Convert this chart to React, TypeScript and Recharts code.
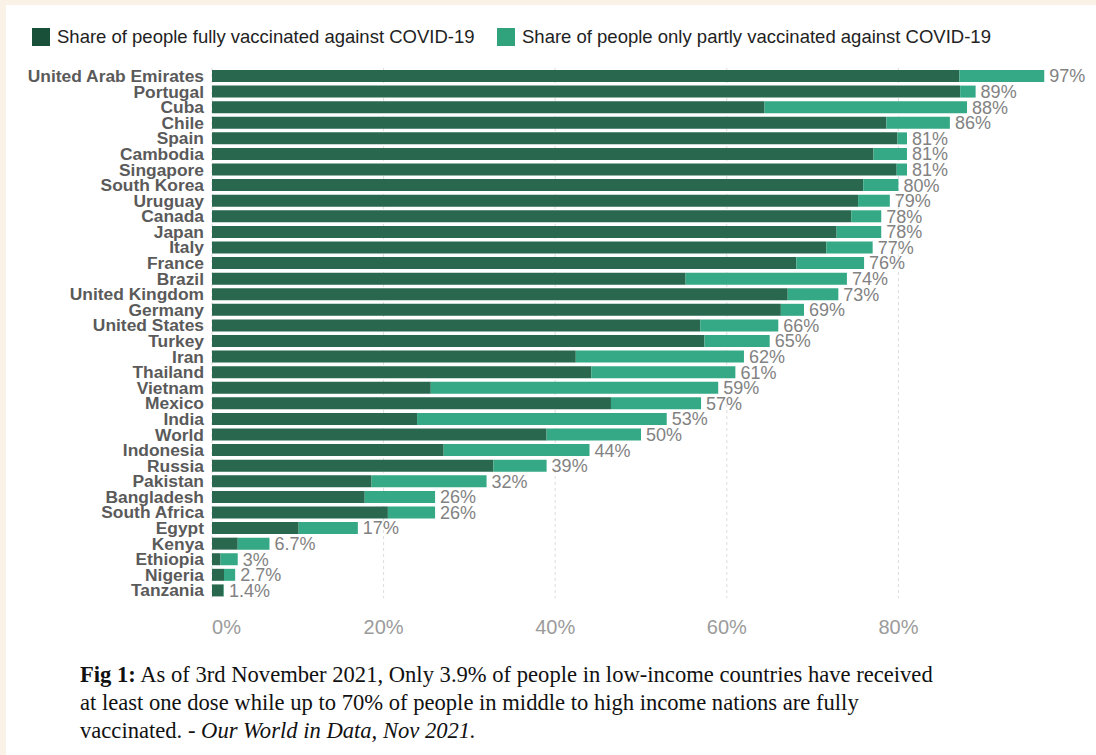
import { Bar, BarChart, CartesianGrid, LabelList, XAxis, YAxis } from "recharts";

const countries = [
  "United Arab Emirates", "Portugal", "Cuba", "Chile", "Spain", "Cambodia", "Singapore",
  "South Korea", "Uruguay", "Canada", "Japan", "Italy", "France", "Brazil", "United Kingdom",
  "Germany", "United States", "Turkey", "Iran", "Thailand", "Vietnam", "Mexico", "India",
  "World", "Indonesia", "Russia", "Pakistan", "Bangladesh", "South Africa", "Egypt", "Kenya",
  "Ethiopia", "Nigeria", "Tanzania",
];

// share fully vaccinated (%)
const fullyVaccinated = [
  87.1, 87.2, 64.4, 78.6, 79.9, 77.1, 79.8, 75.9, 75.3, 74.5, 72.8, 71.6, 68.1, 55.2, 67.1,
  66.3, 56.9, 57.4, 42.4, 44.2, 25.5, 46.5, 23.9, 39.0, 27.0, 32.8, 18.6, 17.8, 20.5, 10.1,
  3.0, 1.0, 1.4, 1.35,
];

// total with at least one dose (%), shown as the bar label
const totalVaccinated = [
  97, 89, 88, 86, 81, 81, 81, 80, 79, 78, 78, 77, 76, 74, 73, 69, 66, 65, 62, 61, 59, 57, 53,
  50, 44, 39, 32, 26, 26, 17, 6.7, 3, 2.7, 1.4,
];

const xTicks = [0, 20, 40, 60, 80];

const data = countries.map((country, i) => ({
  country,
  fully: fullyVaccinated[i],
  partly: +(totalVaccinated[i] - fullyVaccinated[i]).toFixed(2),
  total: totalVaccinated[i],
}));

const SANS = "'Liberation Sans', Arial, sans-serif";
const SERIF = "'Liberation Serif', 'Times New Roman', serif";

function PercentTick({ x, y, payload }: any) {
  const first = payload.value === 0;
  return (
    <text
      x={x}
      y={y + 29}
      textAnchor={first ? "start" : "middle"}
      dominantBaseline="central"
      fill="#9b9b9b"
      fontSize={20}
      fontFamily={SANS}
    >
      {payload.value}%
    </text>
  );
}

function LegendItem({ color, label, left }: { color: string; label: string; left: number }) {
  return (
    <div style={{ position: "absolute", left, top: 28, display: "flex", alignItems: "center" }}>
      <span style={{ width: 18, height: 18, background: color, display: "inline-block" }} />
      <span style={{ marginLeft: 7, fontSize: 18.5, color: "#222", fontFamily: SANS, lineHeight: "18px" }}>
        {label}
      </span>
    </div>
  );
}

export default function App() {
  return (
    <div style={{ position: "absolute", left: 0, top: 0, width: 1096, height: 755, background: "#fbf2e7" }}>
      <div style={{ position: "absolute", left: 6, top: 5, right: 0, bottom: 0, background: "#fff" }} />
      <LegendItem color="#18503a" label="Share of people fully vaccinated against COVID-19" left={32} />
      <LegendItem color="#30a37c" label="Share of people only partly vaccinated against COVID-19" left={497} />
      <div style={{ position: "absolute", left: 0, top: 0 }}>
        <BarChart
          width={1096}
          height={640}
          data={data}
          layout="vertical"
          barSize={12}
          margin={{ top: 68, right: 26, bottom: 0, left: 0 }}
        >
          <CartesianGrid horizontal={false} verticalValues={xTicks} strokeDasharray="3 3" stroke="#dcdcdc" />
          <XAxis
            type="number"
            domain={[0, 100]}
            ticks={xTicks}
            height={42}
            axisLine={false}
            tickLine={false}
            tickSize={0}
            tickMargin={0}
            tick={<PercentTick />}
          />
          <YAxis
            type="category"
            dataKey="country"
            width={212}
            axisLine={false}
            tickLine={false}
            tickSize={0}
            tickMargin={8}
            interval={0}
            tick={{ fill: "#5a5a5a", fontSize: 17.4, fontWeight: 700, fontFamily: SANS }}
          />
          <Bar dataKey="fully" stackId="a" fill="#29684f" isAnimationActive={false} />
          <Bar dataKey="partly" stackId="a" fill="#35a985" isAnimationActive={false}>
            <LabelList
              dataKey="total"
              position="right"
              offset={5}
              fill="#828282"
              fontSize={18}
              fontFamily={SANS}
              formatter={(v: any) => `${v}%`}
            />
          </Bar>
        </BarChart>
      </div>
      <div
        style={{
          position: "absolute",
          left: 80,
          top: 661,
          fontFamily: SERIF,
          fontSize: 22.6,
          lineHeight: "28px",
          color: "#111",
          whiteSpace: "nowrap",
        }}
      >
        <div>
          <b>Fig 1:</b> As of 3rd November 2021, Only 3.9% of people in low-income countries have received
        </div>
        <div>at least one dose while up to 70% of people in middle to high income nations are fully</div>
        <div>
          vaccinated. - <i>Our World in Data, Nov 2021.</i>
        </div>
      </div>
    </div>
  );
}
